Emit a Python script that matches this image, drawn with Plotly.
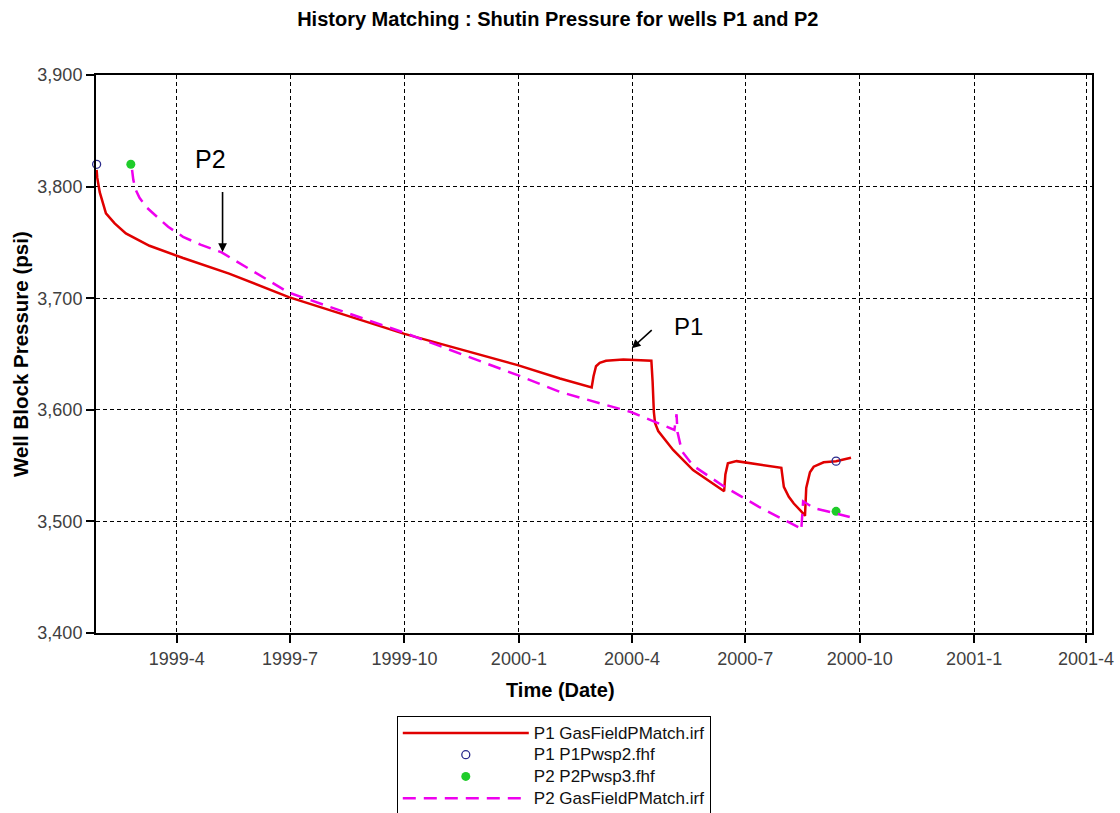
import plotly.graph_objects as go

# Simulated well block pressure, well P1 (psi)
p1_sim_dates = [
    "1999-01-26 12:00", "1999-01-27", "1999-01-29", "1999-02-01", "1999-02-03",
    "1999-02-10", "1999-02-19", "1999-03-10", "1999-04-06", "1999-05-13",
    "1999-06-30", "1999-10-01", "1999-12-31", "2000-02-03", "2000-02-28 12:00",
    "2000-03-01", "2000-03-03", "2000-03-06", "2000-03-11", "2000-03-25",
    "2000-04-16 12:00", "2000-04-17 12:00", "2000-04-18 12:00", "2000-04-19 12:00",
    "2000-04-22", "2000-05-04", "2000-05-20", "2000-06-14", "2000-06-15",
    "2000-06-17", "2000-06-24", "2000-07-30", "2000-07-31 12:00", "2000-08-01",
    "2000-08-05", "2000-08-09", "2000-08-15", "2000-08-18", "2000-08-19",
    "2000-08-22", "2000-08-25", "2000-09-02", "2000-09-12", "2000-09-24",
]
p1_sim_psi = [
    3815, 3808, 3795, 3782, 3776,
    3767, 3758, 3747, 3736, 3722,
    3701, 3668, 3640, 3628, 3620,
    3630, 3639, 3642, 3644, 3645,
    3644, 3625, 3598, 3588,
    3581, 3564, 3546, 3527, 3542,
    3552, 3554, 3548, 3538, 3531,
    3522, 3516, 3509, 3505, 3530,
    3544, 3549, 3553, 3554, 3557,
]

# Simulated well block pressure, well P2 (psi)
p2_sim_dates = [
    "1999-02-24", "1999-02-25", "1999-02-27", "1999-03-02", "1999-03-08",
    "1999-03-16", "1999-03-25", "1999-04-06", "1999-04-20", "1999-05-07",
    "1999-06-30", "1999-10-01", "1999-12-31", "2000-02-03",
    "2000-03-31", "2000-05-05", "2000-05-06 18:00", "2000-05-07 12:00",
    "2000-05-11", "2000-05-20", "2000-06-13", "2000-07-12", "2000-08-14",
    "2000-08-15", "2000-08-16 12:00", "2000-08-25", "2000-09-23",
]
p2_sim_psi = [
    3815, 3806, 3797, 3790, 3781,
    3773, 3764, 3755, 3748, 3741,
    3705, 3669, 3631, 3616,
    3598, 3582, 3596, 3580,
    3563, 3550, 3532, 3513, 3494,
    3492, 3518, 3512, 3504,
]

# Measured shut-in pressures
p1_obs_dates = ["1999-01-26 12:00", "2000-09-12"]
p1_obs_psi = [3820, 3554]
p2_obs_dates = ["1999-02-23", "2000-09-12"]
p2_obs_psi = [3820, 3509]

series_names = [
    "P1 GasFieldPMatch.irf",
    "P1 P1Pwsp2.fhf",
    "P2 P2Pwsp3.fhf",
    "P2 GasFieldPMatch.irf",
]

y_ticks = [3400, 3500, 3600, 3700, 3800, 3900]

FONT = "Liberation Sans, Arial, sans-serif"


def legend_label(name):
    # legend rows are spaced from legend.font.size; the label itself is drawn larger
    return '<span style="font-size:17px">' + name + "</span>"


fig = go.Figure()

fig.add_trace(go.Scatter(
    x=p1_sim_dates, y=p1_sim_psi, mode="lines", name=legend_label(series_names[0]),
    line=dict(color="#e00000", width=2.5),
))
fig.add_trace(go.Scatter(
    x=p1_obs_dates, y=p1_obs_psi, mode="markers", name=legend_label(series_names[1]),
    marker=dict(symbol="circle-open", size=8, color="#2b2b8c", line=dict(width=1.3)),
    cliponaxis=False,
))
fig.add_trace(go.Scatter(
    x=p2_obs_dates, y=p2_obs_psi, mode="markers", name=legend_label(series_names[2]),
    marker=dict(symbol="circle", size=9, color="#1fcc2a"),
    cliponaxis=False,
))
fig.add_trace(go.Scatter(
    x=p2_sim_dates, y=p2_sim_psi, mode="lines", name=legend_label(series_names[3]),
    line=dict(color="#ee00ee", width=2.5, dash="13px,8px"),
))

grid = dict(showgrid=True, gridcolor="#000000", gridwidth=1, griddash="4px,3px")

fig.update_xaxes(
    type="date",
    range=["1999-01-26", "2001-04-05 18:00"],
    tick0="1999-04-01", dtick="M3", tickformat="%Y-%-m",
    ticks="outside", ticklen=8, tickwidth=2, tickcolor="#000000",
    showline=True, linecolor="#000000", linewidth=2, mirror=True,
    tickfont=dict(family=FONT, size=18, color="#404040"),
    **grid,
)
fig.update_yaxes(
    range=[3400, 3900], tickvals=y_ticks, tickformat=",d",
    ticks="outside", ticklen=8, tickwidth=2, tickcolor="#000000",
    showline=True, linecolor="#000000", linewidth=2, mirror=True,
    tickfont=dict(family=FONT, size=18, color="#404040"),
    **grid,
)

arrow = dict(showarrow=True, arrowhead=2, arrowsize=1.1, arrowwidth=1.6,
             arrowcolor="#000000", axref="pixel", ayref="pixel", text=" ")

fig.update_layout(
    width=1120, height=813,
    margin=dict(l=96, r=28, t=75, b=180, autoexpand=False),
    paper_bgcolor="#ffffff", plot_bgcolor="#ffffff",
    title=dict(
        text="<b>History Matching : Shutin Pressure for wells P1 and P2</b>",
        x=0.498, xanchor="center", y=0.977, yanchor="middle",
        font=dict(family=FONT, size=20, color="#000000"),
    ),
    legend=dict(
        x=0.302, y=-0.149, xanchor="left", yanchor="top",
        bordercolor="#000000", borderwidth=1, bgcolor="#ffffff",
        font=dict(family=FONT, size=14.4, color="#111111"),
        itemwidth=126, tracegroupgap=0,
    ),
    annotations=[
        dict(text="<b>Time (Date)</b>", xref="paper", yref="paper",
             x=0.4659, y=-0.102, xanchor="center", yanchor="middle",
             showarrow=False, font=dict(family=FONT, size=20, color="#000000")),
        dict(text="<b>Well Block Pressure (psi)</b>", xref="paper", yref="paper",
             x=-0.0763, y=0.5, xanchor="center", yanchor="middle", textangle=-90,
             showarrow=False, font=dict(family=FONT, size=20.5, color="#000000")),
        dict(text="P2", x="1999-04-28", y=3824.7, xref="x", yref="y",
             showarrow=False, font=dict(family=FONT, size=25, color="#000000")),
        dict(text="P1", x="2000-05-16 16:00", y=3674.5, xref="x", yref="y",
             showarrow=False, font=dict(family=FONT, size=24, color="#000000")),
        dict(x="1999-05-07 18:00", y=3741.4, xref="x", yref="y", ax=0, ay=-70, **arrow),
        dict(x="2000-03-31 17:00", y=3655.1, xref="x", yref="y", ax=23, ay=-21, **arrow),
    ],
)

fig.write_html("out.html")
